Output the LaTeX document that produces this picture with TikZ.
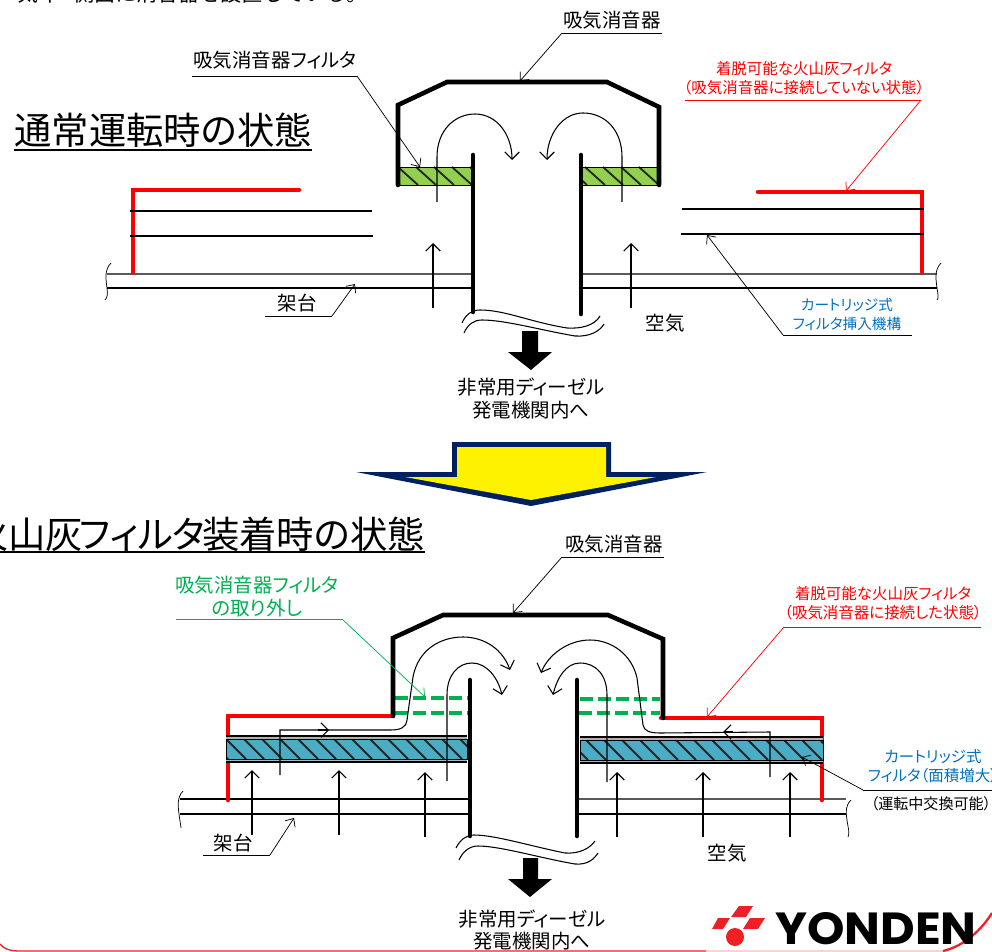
\documentclass[tikz,border=0pt]{standalone}
\usepackage{fontspec}
\setmainfont{Noto Sans CJK JP}[RawFeature=+palt]
\newfontfamily\fullwidthfont{Noto Sans CJK JP}
\newfontfamily\logofont{Poppins}
\usepackage{tikz}
\usetikzlibrary{arrows.meta}
\definecolor{apired}{RGB}{255,0,0}
\definecolor{apigreen}{RGB}{0,176,80}
\definecolor{apiblue}{RGB}{0,112,192}
\definecolor{filtergreen}{RGB}{146,208,80}
\definecolor{filterblue}{RGB}{75,172,198}
\definecolor{navyline}{RGB}{0,32,96}
\definecolor{logored}{RGB}{238,32,36}
\begin{document}
\begin{tikzpicture}[x=0.75pt,y=-0.75pt]
    \tikzstyle{every node}+=[inner sep=0pt]
    \tikzstyle{wall}=[black,line width=3.4pt,line cap=round,line join=miter]
    \tikzstyle{redwall}=[apired,line width=3.4pt,line cap=round,line join=miter]
    \tikzstyle{thin}=[black,line width=0.8pt]
    \tikzstyle{flow}=[black,line width=0.8pt,-{Straight Barb[length=5.5pt,width=11pt]}]
    \tikzstyle{leader}=[black,line width=0.55pt]
    \tikzstyle{tip}=[-{Straight Barb[length=5pt,width=9pt]}]
    \tikzstyle{dashgreen}=[apigreen,line width=2.3pt,dash pattern=on 9.5pt off 4pt]
    \tikzstyle{hatch}=[black!85,line width=1.4pt]
    \tikzstyle{lbl}=[font=\fontsize{14.6pt}{17pt}\selectfont,align=center]
    \tikzstyle{redlbl}=[font=\fontsize{11.6pt}{14pt}\selectfont,align=center,text=apired]
    \tikzstyle{bluelbl}=[font=\fontsize{11pt}{14pt}\selectfont,align=center,text=apiblue]
    \tikzstyle{title}=[font=\fontsize{28pt}{32pt}\selectfont]
    \useasboundingbox (0,0) rectangle (992,952);
    \clip (0,0) rectangle (992,952);

    % cut line at the top of the sheet
    \node [anchor=east,font=\fullwidthfont\fontsize{15.8pt}{18pt}\selectfont] (headline) at (368,-6) {気ィ\hspace{10pt}側面に消音器を設置している。};

    % titles
    \node [title,anchor=base east] (titleNormal) at (312,145) {通常運転時の状態};
    \draw [black,line width=1.7pt] (14,150) -- (312,150);
    \node [title,anchor=base east] (titleAsh) at (425,548) {火山灰\kern-3ptフィル\kern-1ptタ\kern-2pt装着時の状態};
    \draw [black,line width=1.7pt] (0,552) -- (425,552);

    % upper figure: base and cartridge rails
    \draw [black!65,line width=0.9pt] (107,274) -- (473,274);
    \draw [black!65,line width=0.9pt] (581,274) -- (937,274);
    \draw [thin] (107,288) -- (473,288) (581,288) -- (937,288);
    \draw [leader] (111,263) .. controls (104,270) and (106,280) .. (107,288) .. controls (108,295) and (107,298) .. (105,300);
    \draw [leader] (941,263) .. controls (934,270) and (936,280) .. (937,288) .. controls (938,295) and (939,298) .. (937,300);
    \draw [redwall] (299,190) -- (133,190) -- (133,272);
    \draw [redwall] (758,192) -- (922,192) -- (922,272);
    \draw [black,line width=1.3pt] (130,211) -- (372,211) (130,236) -- (373,236);
    \draw [black,line width=1.3pt] (682,209) -- (924,209) (681,234) -- (924,234);

    % upper figure: filter bars
    \foreach \xa/\ya/\xb/\yb/\offs in {398/167/473/185/0, 581/167/659/185/4}{
      \begin{scope}
        \fill [filtergreen] (\xa,\ya) rectangle (\xb,\yb);
        \clip (\xa,\ya) rectangle (\xb,\yb);
        \foreach \i in {-1,...,6}{
          \draw [hatch] ({\xa+\offs+\i*18-18},\ya) -- ({\xa+\offs+\i*18+2},\yb);
        }
      \end{scope}
      \draw [black,line width=0.6pt] (\xa,\ya) rectangle (\xb,\yb);
    }

    % upper figure: silencer
    \draw [wall] (398,185) -- (398,105) -- (447,82) -- (607,82) -- (659,107) -- (659,185);
    \draw [wall] (473,155) -- (473,312);
    \draw [wall] (581,155) -- (581,314);
    \draw [flow] (437,202) -- (437,157) .. controls (437,130) and (455,114) .. (475,114) .. controls (497,114) and (512,135) .. (512,160);
    \draw [flow] (622,202) -- (622,157) .. controls (622,130) and (605,113) .. (583,113) .. controls (562,113) and (547,135) .. (547,160);
    \draw [flow] (433,308) -- (433,243);
    \draw [flow] (631,308) -- (631,243);
    \draw [thin] (462,323) .. controls (466,314) and (472,310) .. (480,310) .. controls (505,310) and (530,322) .. (567,328) .. controls (582,329) and (595,325) .. (600,316);
    \draw [thin] (464,333) .. controls (468,324) and (474,320) .. (482,320) .. controls (505,320) and (540,330) .. (575,336) .. controls (590,337) and (600,331) .. (604,324);

    % upper figure: outlet arrow
    \fill [black] (522,331) -- (538,331) -- (538,352) -- (552,352) -- (531,370) -- (508,352) -- (522,352) -- cycle;

    % upper figure: labels
    \node [lbl] (silencerA) at (612,20) {吸気消音器};
    \coordinate (silencerAa) at (662,33);
    \coordinate (silencerAb) at (562,33);
    \coordinate (silencerAtip) at (520,81);
    \draw [leader] (silencerAa) -- (silencerAb);
    \draw [leader,tip] (silencerAb) -- (silencerAtip);
    \node [lbl] (silFilter) at (275,60) {吸気消音器フィルタ};
    \coordinate (silFiltera) at (192,76);
    \coordinate (silFilterb) at (357,76);
    \coordinate (silFiltertip) at (420,167);
    \draw [leader] (silFiltera) -- (silFilterb);
    \draw [leader,tip] (silFilterb) -- (silFiltertip);
    \node [redlbl] (ashA) at (804,78.5) {着脱可能な火山灰フィルタ\\（吸気消音器に接続していない状態）};
    \coordinate (ashAa) at (685,100);
    \coordinate (ashAb) at (921,100);
    \coordinate (ashAtip) at (846,191);
    \draw [leader,apired] (ashAa) -- (ashAb);
    \draw [leader,apired,tip] (ashAb) -- (ashAtip);
    \node [bluelbl] (insertA) at (847,314.5) {カートリッジ式\\フィルタ挿入機構};
    \coordinate (insertAa) at (912,335);
    \coordinate (insertAb) at (783,335);
    \coordinate (insertAtip) at (707,235);
    \draw [leader] (insertAa) -- (insertAb);
    \draw [leader,tip] (insertAb) -- (insertAtip);
    \node [lbl] (standA) at (297,303) {架台};
    \coordinate (standAa) at (265,316);
    \coordinate (standAb) at (332,316);
    \coordinate (standAtip) at (355,284);
    \draw [leader] (standAa) -- (standAb);
    \draw [leader,tip] (standAb) -- (standAtip);
    \node [lbl] (airA) at (665,323) {空気};
    \node [lbl] (toEngineA) at (531,398.5) {非常用ディーゼル\\発電機関内へ};

    % changeover arrow
    \fill [navyline] (452,442) -- (611,442) -- (611,472) -- (707,472) -- (531,506) -- (356,472) -- (452,472) -- cycle;
    \fill [yellow] (457,447) -- (606,447) -- (606,477) -- (656,477) -- (531,500) -- (405,477) -- (457,477) -- cycle;

    % lower figure: base
    \draw [thin] (180,799) -- (470,799) (180,814) -- (470,814);
    \draw [black!65,line width=0.9pt] (577,799) -- (846,799);
    \draw [thin] (577,814) -- (846,814);
    \draw [leader] (183,791) .. controls (177,797) and (178,806) .. (179,814) .. controls (180,822) and (181,826) .. (181,828);
    \draw [leader] (851,800) .. controls (845,806) and (846,812) .. (847,820) .. controls (848,828) and (850,833) .. (848,837);

    % lower figure: red housing and rails round the filter
    \draw [redwall] (393,716) -- (228,716) -- (228,800);
    \draw [redwall] (661,718) -- (822,718) -- (822,800);
    \foreach \xa/\xb/\ya/\yb in {226/467/736/739, 226/467/759/762, 580/823/737/740, 580/823/760/763}{
      \fill [black!30] (\xa,\ya) rectangle (\xb,\yb);
    }
    \draw [black,line width=0.9pt] (226,736) -- (467,736) (226,762) -- (467,762);
    \draw [black,line width=0.9pt] (580,737) -- (823,737) (580,763) -- (823,763);
    \foreach \xa/\ya/\xb/\yb/\offs in {226/739/467/759/0, 580/740/823/760/6}{
      \begin{scope}
        \fill [filterblue] (\xa,\ya) rectangle (\xb,\yb);
        \clip (\xa,\ya) rectangle (\xb,\yb);
        \foreach \i in {-1,...,15}{
          \draw [hatch] ({\xa+\offs+\i*18-18},\ya) -- ({\xa+\offs+\i*18+2},\yb);
        }
      \end{scope}
      \draw [black,line width=0.6pt] (\xa,\ya) rectangle (\xb,\yb);
    }

    % lower figure: silencer
    \draw [dashgreen] (395,698) -- (470,698) (395,713) -- (470,713);
    \draw [dashgreen] (580,699) -- (660,699) (579,713) -- (660,713);
    \draw [wall] (393,716) -- (393,638) -- (443,615) -- (608,615) -- (663,639) -- (663,718);
    \draw [wall] (470,680) -- (470,836);
    \draw [wall] (577,680) -- (577,836);

    % lower figure: air paths
    \draw [flow] (280,775) -- (280,730) -- (390,730) .. controls (400,730) and (406,728) .. (407,720) -- (413,677) .. controls (418,650) and (440,637) .. (463,637) .. controls (485,637) and (503,650) .. (510,670);
    \draw [flow] (770,777) -- (770,732) -- (660,733) .. controls (650,733) and (644,731) .. (643,725) -- (637,678) .. controls (632,655) and (612,640) .. (590,640) .. controls (568,640) and (548,655) .. (541,673);
    \draw [flow] (447,781) -- (447,695) .. controls (447,675) and (458,663) .. (472,663) .. controls (487,663) and (498,678) .. (502,695);
    \draw [flow] (607,782) -- (607,695) .. controls (607,675) and (596,663) .. (580,663) .. controls (566,663) and (557,678) .. (553,695);
    \draw [flow] (318,730) -- (329,730);
    \draw [flow] (733,732) -- (723,732);
    \foreach \xpos/\ystart in {252/835, 339/835, 425/837, 617/837, 703/837, 790/837}{
      \draw [flow] (\xpos,\ystart) -- (\xpos,{\ystart-65});
    }
    \draw [thin] (456,848) .. controls (460,840) and (466,835) .. (474,835) .. controls (495,835) and (530,846) .. (565,853) .. controls (580,854) and (590,848) .. (595,841);
    \draw [thin] (459,860) .. controls (463,851) and (470,846) .. (478,846) .. controls (500,846) and (540,858) .. (575,864) .. controls (588,865) and (594,859) .. (598,853);

    % lower figure: outlet arrow
    \fill [black] (523,858) -- (538,858) -- (538,879) -- (552,879) -- (530,897) -- (508,879) -- (523,879) -- cycle;

    % lower figure: labels
    \node [lbl] (silencerB) at (614,544) {吸気消音器};
    \coordinate (silencerBa) at (664,557);
    \coordinate (silencerBb) at (562,557);
    \coordinate (silencerBtip) at (513,613);
    \draw [leader] (silencerBa) -- (silencerBb);
    \draw [leader,tip] (silencerBb) -- (silencerBtip);
    \node [lbl,text=apigreen] (removeB) at (257,596.5) {吸気消音器フィルタ\\の取り外し};
    \coordinate (removeBa) at (176,619);
    \coordinate (removeBb) at (342,619);
    \coordinate (removeBtip) at (425,697);
    \draw [leader,apigreen] (removeBa) -- (removeBb);
    \draw [leader,apigreen,tip] (removeBb) -- (removeBtip);
    \node [redlbl] (ashB) at (883,603.5) {着脱可能な火山灰フィルタ\\（吸気消音器に接続した状態）};
    \coordinate (ashBa) at (981,627);
    \coordinate (ashBb) at (784,627);
    \coordinate (ashBtip) at (707,717);
    \draw [leader,apired] (ashBa) -- (ashBb);
    \draw [leader,apired,tip] (ashBb) -- (ashBtip);
    \node [bluelbl,font=\fontsize{11.6pt}{14pt}\selectfont] (cartB) at (933,766) {カートリッジ式\\フィルタ（面積増大）};
    \node [font=\fontsize{11.3pt}{14pt}\selectfont] (swapB) at (931,804) {（運転中交換可能）};
    \coordinate (cartBa) at (992,790);
    \coordinate (cartBb) at (863,790);
    \coordinate (cartBtip) at (802,757);
    \draw [leader] (cartBa) -- (cartBb);
    \draw [leader,tip] (cartBb) -- (cartBtip);
    \node [lbl] (standB) at (233,843) {架台};
    \coordinate (standBa) at (203,855);
    \coordinate (standBb) at (270,855);
    \coordinate (standBtip) at (294,818);
    \draw [leader] (standBa) -- (standBb);
    \draw [leader,tip] (standBb) -- (standBtip);
    \node [lbl] (airB) at (727,853) {空気};
    \node [lbl] (toEngineB) at (532,930) {非常用ディーゼル\\発電機関内へ};

    % sheet border and logo
    \draw [logored,line width=1pt] (0,944) .. controls (4,949) and (10,951) .. (20,951) -- (706,951);
    \draw [logored!20,line width=1pt] (706,951) -- (943,951);
    \draw [logored,line width=1.7pt] (943,951) .. controls (960,947) and (978,935) .. (992,913);
    \fill [logored] (739,906) -- (753,906) -- (746,917) -- (731,917) -- cycle;
    \fill [logored] (718,918) -- (730,918) -- (723,929) -- (712,929) -- cycle;
    \fill [logored] (750,918) -- (765,918) -- (758,929) -- (743,929) -- cycle;
    \fill [logored] (735,937) circle (9);
    \node [anchor=south west] (logoName) at (775,945) {\resizebox{151pt}{24pt}{\logofont\bfseries YONDEN}};
\end{tikzpicture}
\end{document}
